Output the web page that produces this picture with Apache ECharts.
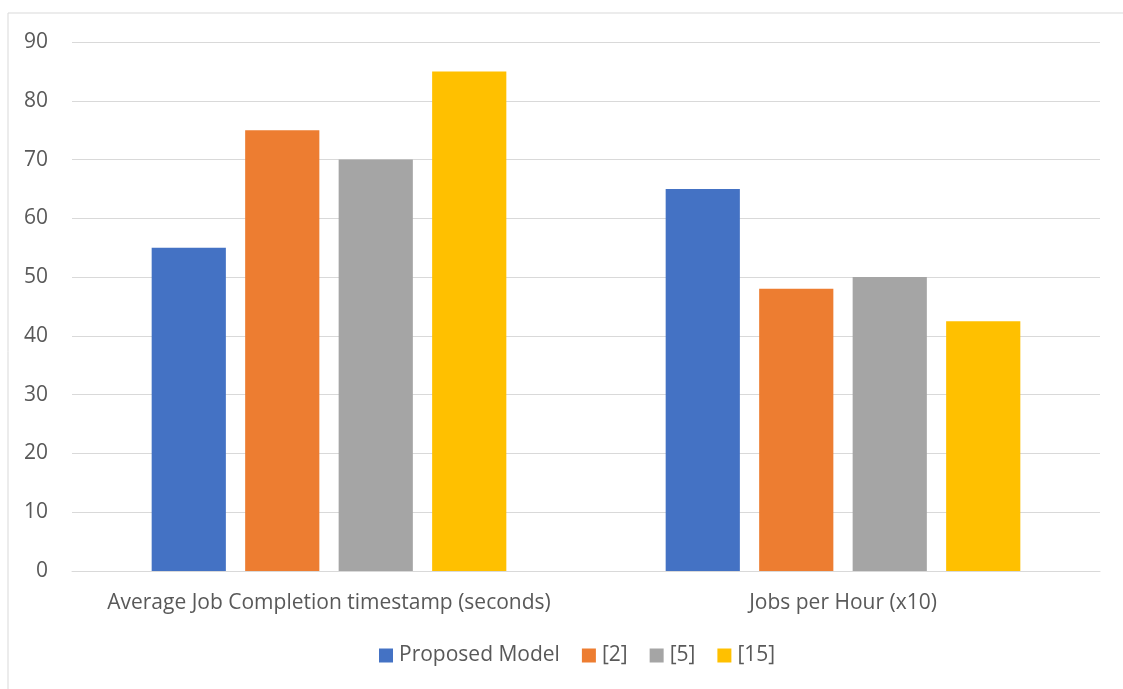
<!DOCTYPE html>
<html>
<head>
<meta charset="utf-8">
<script src="https://cdn.jsdelivr.net/npm/echarts@6/dist/echarts.min.js"></script>
<style>
  html, body { margin: 0; padding: 0; background: #fff; }
  #chart { width: 1123px; height: 689px; }
</style>
</head>
<body>
<div id="chart"></div>
<script>
// Categories along the x axis
const categories = ['Average Job Completion timestamp (seconds)', 'Jobs per Hour (x10)'];
// Series names and their values per category
const seriesNames = ['Proposed Model', '[2]', '[5]', '[15]'];
const proposedModel = [55, 65];
const ref2 = [75, 48];
const ref5 = [70, 50];
const ref15 = [85, 42.5];
const seriesColors = ['#4472C4', '#ED7D31', '#A5A5A5', '#FFC000'];
// Value axis range
const yMin = 0, yMax = 90, yStep = 10;

const values = [proposedModel, ref2, ref5, ref15];
const fontFamily = '"Open Sans", Lato, sans-serif';

const chart = echarts.init(document.getElementById('chart'), null, { renderer: 'canvas' });
chart.setOption({
  animation: false,
  backgroundColor: '#ffffff',
  graphic: [{
    type: 'rect',
    shape: { x: 8, y: 13, width: 1130, height: 700 },
    style: { fill: 'none', stroke: '#d9d9d9', lineWidth: 1 },
    silent: true
  }],
  grid: { left: 72, right: 23, top: 42, bottom: 118, containLabel: false },
  legend: {
    bottom: 18,
    left: 374,
    itemWidth: 14,
    itemHeight: 14,
    itemGap: 22,
    icon: 'rect',
    textStyle: { color: '#595959', fontSize: 21, fontFamily: fontFamily, padding: [0, 0, 0, 1] },
    data: seriesNames
  },
  xAxis: {
    type: 'category',
    data: categories,
    axisLine: { lineStyle: { color: '#d9d9d9', width: 1 } },
    axisTick: { show: false },
    axisLabel: { interval: 0, color: '#595959', fontSize: 21, fontFamily: fontFamily, margin: 22 }
  },
  yAxis: {
    type: 'value',
    min: yMin, max: yMax, interval: yStep,
    axisLine: { show: false },
    axisTick: { show: false },
    axisLabel: { color: '#595959', fontSize: 21, fontFamily: fontFamily, margin: 24 },
    splitLine: { lineStyle: { color: '#d9d9d9', width: 1 } }
  },
  series: seriesNames.map((name, i) => ({
    name: name,
    type: 'bar',
    data: values[i],
    itemStyle: { color: seriesColors[i] },
    barGap: '26%',
    barCategoryGap: '31%'
  }))
});
</script>
</body>
</html>
